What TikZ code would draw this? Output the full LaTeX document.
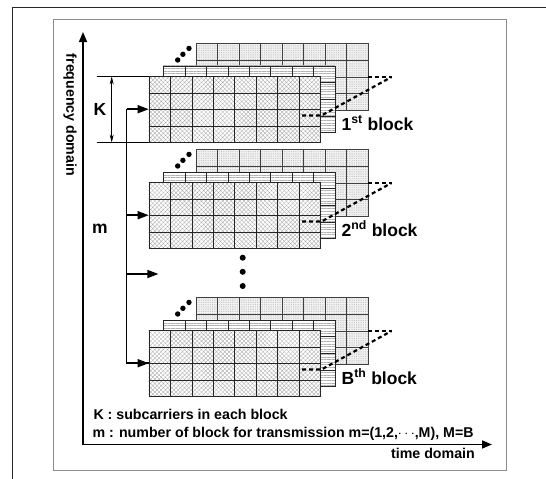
\documentclass[tikz,border=0pt]{standalone}
\usepackage{fontspec}
\setmainfont{Liberation Sans}
\usetikzlibrary{patterns.meta,arrows.meta}
\tikzset{
  gridline/.style={draw=black!85,line width=1.4pt},
  backgrid/.style={draw=black!75,line width=1.3pt},
  frontfill/.style={fill=white,postaction={pattern={Hatch[angle=45,distance=3pt,line width=0.3pt]},pattern color=black!35}},
  midfill/.style={fill=white,postaction={pattern={Lines[angle=0,distance=2.6pt,line width=0.3pt]},pattern color=black!30}},
  backfill/.style={fill=black!5,postaction={pattern={Dots[distance=1.8pt,radius=0.35pt]},pattern color=black!40}},
  dashline/.style={line width=2.2pt,dash pattern=on 4pt off 3pt},
  blockdot/.style={fill=black},
  axis/.style={line width=1.6pt,-{Triangle[length=10pt,width=8pt]}},
  bracket/.style={line width=1.6pt},
  karrow/.style={line width=0.7pt,{Stealth[length=8pt,width=4pt]}-{Stealth[length=8pt,width=4pt]}},
  marrow/.style={line width=1.5pt,-{Triangle[length=11pt,width=8pt]}},
  biglabel/.style={font=\bfseries\fontsize{17.5}{20}\selectfont},
  smalllabel/.style={font=\bfseries\fontsize{14.2}{17}\selectfont},
}
% #1 x0, #2 y0, #3 style
\newcommand\gridlayer[3]{%
  \foreach \i in {0,...,8}{%
    \pgfmathsetmacro\gx{round(#1+\i*21.45)+0.5}%
    \draw[#3] (\gx,{round(#2)}) -- (\gx,{round(#2+66.4)+1});}%
  \foreach \j in {0,...,4}{%
    \pgfmathsetmacro\gy{round(#2+\j*16.6)+0.5}%
    \draw[#3] ({round(#1)},\gy) -- ({round(#1+171.6)+1},\gy);}%
}
\newcommand\ofdmblock[3]{%
\begin{scope}[shift={(0,#1)}]
  % back layer
  \path[backfill] (196,43.4) rectangle ++(171.6,66.4);
  \gridlayer{196}{43.4}{backgrid}
  % dots between layers
  \fill[blockdot] (177.7,60) circle (2.7) (182.9,54.3) circle (2.7) (189,48.4) circle (2.7);
  % middle layer
  \path[midfill] (163.2,65.8) rectangle ++(171.6,66.4);
  \gridlayer{163.2}{65.8}{gridline}
  % front layer
  \path[frontfill] (148.7,76) rectangle ++(171.6,66.4);
  \gridlayer{148.7}{76}{gridline}
  % dashed perspective line
  \draw[dashline] (302,115.5) -- (321.5,115.5) -- (391.5,77);
  \draw[dashline] (368,77.3) -- (391.5,77.3);
  \coordinate (#2in) at (148.7,109.2);
  \node[biglabel,anchor=base west,inner sep=0pt] (#2lab) at (341.5,130) {#3 block};
\end{scope}}
\begin{document}
\begin{tikzpicture}[x=1pt,y=-1pt]
\useasboundingbox (0,0) rectangle (546,479);
% frames
\draw[black!85,line width=1.3pt] (12.3,479) -- (12.3,7.3) -- (546,7.3);
\draw[black!45,line width=0.9pt] (53.3,19) rectangle (506,470.5);
% axes
\coordinate (origin) at (83,444.5);
\coordinate (ftip) at (83,32);
\coordinate (ttip) at (492,444.5);
\draw[axis] (origin) -- (ftip);
\draw[axis] (origin) -- (ttip);
\node[smalllabel,rotate=-90] (flabel) at (70,115) {frequency domain};
\node[smalllabel,anchor=base east,inner sep=0pt] (tlabel) at (475,458) {time domain};
% blocks
\ofdmblock{0}{bA}{1\textsuperscript{st}}
\ofdmblock{106}{bB}{2\textsuperscript{nd}}
\ofdmblock{254}{bC}{B\textsuperscript{th}}
% vertical dots
\fill (242.7,257.7) circle (3) (242.7,271.8) circle (3) (242.7,286) circle (3);
% K bracket
\coordinate (ktop) at (96.7,76.5);
\coordinate (kbot) at (96.7,142.5);
\draw[bracket] (ktop) -- (ktop -| bAin);
\draw[bracket] (kbot) -- (kbot -| bAin);
\coordinate (kat) at (111.7,76.5);
\coordinate (kab) at (111.7,142.5);
\draw[karrow] (kat) -- (kab);
\node[biglabel] (klabel) at (100,109) {K};
\node[biglabel] (mlabel) at (100,229) {m};
% m arrows
\coordinate (mx) at (126.5,0);
\coordinate (mmid) at (158.4,274);
\draw[line width=1.5pt] (bAin -| mx) -- (bCin -| mx) -- (bCin);
\draw[marrow] (bAin -| mx) -- (bAin);
\draw[marrow] (bBin -| mx) -- (bBin);
\draw[marrow] (mmid -| mx) -- (mmid);
\draw[marrow] (bCin -| mx) -- (bCin);
% legend
\node[smalllabel,anchor=base west,inner sep=0pt] (legk) at (93.3,419.3) {K : subcarriers in each block};
\node[smalllabel,anchor=base west,inner sep=0pt] (legm) at (92.3,437.5) {m : number of block for transmission m=(1,2,$\cdots$,M), M=B};
\end{tikzpicture}
\end{document}
